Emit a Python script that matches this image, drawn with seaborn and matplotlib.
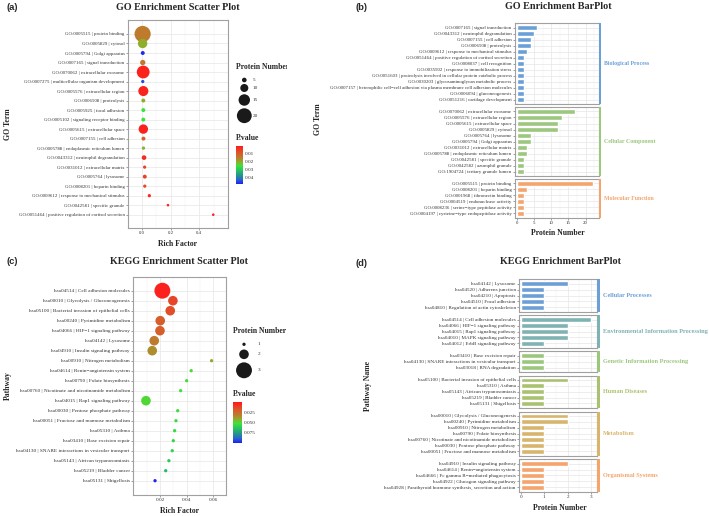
import matplotlib
matplotlib.use('Agg')
import matplotlib.pyplot as plt
import seaborn as sns
from matplotlib.cm import ScalarMappable
from matplotlib.colors import LinearSegmentedColormap, Normalize
from matplotlib.transforms import Bbox, TransformedBbox

# ---------------- data ----------------
go_terms = [
    "GO:0005515 | protein binding",
    "GO:0005829 | cytosol",
    "GO:0005794 | Golgi apparatus",
    "GO:0007165 | signal transduction",
    "GO:0070062 | extracellular exosome",
    "GO:0007275 | multicellular organism development",
    "GO:0005576 | extracellular region",
    "GO:0006508 | proteolysis",
    "GO:0005925 | focal adhesion",
    "GO:0005102 | signaling receptor binding",
    "GO:0005615 | extracellular space",
    "GO:0007155 | cell adhesion",
    "GO:0005788 | endoplasmic reticulum lumen",
    "GO:0043312 | neutrophil degranulation",
    "GO:0031012 | extracellular matrix",
    "GO:0005764 | lysosome",
    "GO:0008201 | heparin binding",
    "GO:0009612 | response to mechanical stimulus",
    "GO:0042581 | specific granule",
    "GO:0051464 | positive regulation of cortisol secretion",
]
go_rich = [0.004, 0.004, 0.005, 0.005, 0.008, 0.005, 0.009, 0.009, 0.009, 0.009,
           0.009, 0.010, 0.010, 0.014, 0.018, 0.019, 0.019, 0.051, 0.181, 0.497]
go_count = [22, 12, 4, 6, 17, 3, 13, 4, 4, 4, 12, 4, 3, 5, 3, 4, 3, 3, 2, 2]
go_pvalue = [0.0155, 0.021, 0.0475, 0.015, 0.002, 0.045, 0.0025, 0.021, 0.026, 0.026,
             0.002, 0.0106, 0.021, 0.0034, 0.0068, 0.0068, 0.0077, 0.0034, 0.003, 0.0025]

go_bar_terms = [
    "GO:0007165 | signal transduction",
    "GO:0043312 | neutrophil degranulation",
    "GO:0007155 | cell adhesion",
    "GO:0006508 | proteolysis",
    "GO:0009612 | response to mechanical stimulus",
    "GO:0051464 | positive regulation of cortisol secretion",
    "GO:0008037 | cell recognition",
    "GO:0035902 | response to immobilization stress",
    "GO:0051603 | proteolysis involved in cellular protein catabolic process",
    "GO:0030203 | glycosaminoglycan metabolic process",
    "GO:0007157 | heterophilic cell−cell adhesion via plasma membrane cell adhesion molecules",
    "GO:0006094 | gluconeogenesis",
    "GO:0051216 | cartilage development",
    "GO:0070062 | extracellular exosome",
    "GO:0005576 | extracellular region",
    "GO:0005615 | extracellular space",
    "GO:0005829 | cytosol",
    "GO:0005764 | lysosome",
    "GO:0005794 | Golgi apparatus",
    "GO:0031012 | extracellular matrix",
    "GO:0005788 | endoplasmic reticulum lumen",
    "GO:0042581 | specific granule",
    "GO:0042582 | azurophil granule",
    "GO:1904724 | tertiary granule lumen",
    "GO:0005515 | protein binding",
    "GO:0008201 | heparin binding",
    "GO:0001968 | fibronectin binding",
    "GO:0004519 | endonuclease activity",
    "GO:0008236 | serine−type peptidase activity",
    "GO:0004197 | cysteine−type endopeptidase activity",
]
go_bar_counts = [6, 5, 4, 4, 3, 2, 2, 2, 2, 2, 2, 2, 2,
                 17, 13, 12, 12, 4, 4, 3, 3, 2, 2, 2,
                 22, 3, 2, 2, 2, 2]
go_bar_class = (["Biological Process"] * 13 + ["Cellular Component"] * 11
                + ["Molecular Function"] * 6)
go_classes = ["Biological Process", "Cellular Component", "Molecular Function"]
go_class_colors = ["#6a9fd8", "#9cc77e", "#f4a46c"]

kegg_terms = [
    "hsa04514 | Cell adhesion molecules",
    "hsa00010 | Glycolysis / Gluconeogenesis",
    "hsa05100 | Bacterial invasion of epithelial cells",
    "hsa00240 | Pyrimidine metabolism",
    "hsa04066 | HIF−1 signaling pathway",
    "hsa04142 | Lysosome",
    "hsa04910 | Insulin signaling pathway",
    "hsa00910 | Nitrogen metabolism",
    "hsa04614 | Renin−angiotensin system",
    "hsa00790 | Folate biosynthesis",
    "hsa00760 | Nicotinate and nicotinamide metabolism",
    "hsa04015 | Rap1 signaling pathway",
    "hsa00030 | Pentose phosphate pathway",
    "hsa00051 | Fructose and mannose metabolism",
    "hsa05310 | Asthma",
    "hsa03410 | Base excision repair",
    "hsa04130 | SNARE interactions in vesicular transport",
    "hsa05143 | African trypanosomiasis",
    "hsa05219 | Bladder cancer",
    "hsa05131 | Shigellosis",
]
kegg_rich = [0.0218, 0.0297, 0.0277, 0.0202, 0.0200, 0.0157, 0.0142, 0.0587, 0.0434, 0.0400,
             0.0355, 0.0095, 0.0333, 0.0320, 0.0310, 0.0300, 0.0292, 0.0267, 0.0243, 0.0163]
kegg_count = [3, 2, 2, 2, 2, 2, 2, 1, 1, 1, 1, 2, 1, 1, 1, 1, 1, 1, 1, 1]
kegg_pvalue = [0.003, 0.013, 0.015, 0.021, 0.021, 0.031, 0.035, 0.041, 0.050, 0.051,
               0.052, 0.050, 0.054, 0.055, 0.056, 0.057, 0.058, 0.061, 0.066, 0.098]

kegg_bar_terms = [
    "hsa04142 | Lysosome",
    "hsa04520 | Adherens junction",
    "hsa04210 | Apoptosis",
    "hsa04510 | Focal adhesion",
    "hsa04810 | Regulation of actin cytoskeleton",
    "hsa04514 | Cell adhesion molecules",
    "hsa04066 | HIF−1 signaling pathway",
    "hsa04015 | Rap1 signaling pathway",
    "hsa04010 | MAPK signaling pathway",
    "hsa04012 | ErbB signaling pathway",
    "hsa03410 | Base excision repair",
    "hsa04130 | SNARE interactions in vesicular transport",
    "hsa03018 | RNA degradation",
    "hsa05100 | Bacterial invasion of epithelial cells",
    "hsa05310 | Asthma",
    "hsa05143 | African trypanosomiasis",
    "hsa05219 | Bladder cancer",
    "hsa05131 | Shigellosis",
    "hsa00010 | Glycolysis / Gluconeogenesis",
    "hsa00240 | Pyrimidine metabolism",
    "hsa00910 | Nitrogen metabolism",
    "hsa00790 | Folate biosynthesis",
    "hsa00760 | Nicotinate and nicotinamide metabolism",
    "hsa00030 | Pentose phosphate pathway",
    "hsa00051 | Fructose and mannose metabolism",
    "hsa04910 | Insulin signaling pathway",
    "hsa04614 | Renin−angiotensin system",
    "hsa04666 | Fc gamma R−mediated phagocytosis",
    "hsa04922 | Glucagon signaling pathway",
    "hsa04928 | Parathyroid hormone synthesis, secretion and action",
]
kegg_bar_counts = [2, 1, 1, 1, 1,
                   3, 2, 2, 2, 1,
                   1, 1, 1,
                   2, 1, 1, 1, 1,
                   2, 2, 1, 1, 1, 1, 1,
                   2, 1, 1, 1, 1]
kegg_bar_class = (["Cellular Processes"] * 5 + ["Environmental Information Processing"] * 5
                  + ["Genetic Information Processing"] * 3 + ["Human Diseases"] * 5
                  + ["Metabolism"] * 7 + ["Organismal Systems"] * 5)
kegg_classes = ["Cellular Processes", "Environmental Information Processing",
                "Genetic Information Processing", "Human Diseases", "Metabolism",
                "Organismal Systems"]
kegg_class_colors = ["#6c9fd6", "#7fb2b2", "#9bc67d", "#aac26f", "#d8b56d", "#f4a46c"]

# ---------------- setup ----------------
sns.set_theme(style='white')
plt.rcParams['font.family'] = ['Liberation Serif', 'DejaVu Serif']

W, H = 709, 516
fig = plt.figure(figsize=(W / 100, H / 100), dpi=100)

pcmap = LinearSegmentedColormap.from_list('pval', [
    (0.0, '#ff1a1a'), (0.15, '#e0502a'), (0.30, '#bf7a2e'), (0.42, '#8db02c'),
    (0.52, '#39e43a'), (0.72, '#22a77a'), (0.88, '#2a64c8'), (1.0, '#1a1aff')])


def box(x0, y0, x1, y1):
    # pixel box (top-left origin) -> figure fraction
    return [x0 / W, 1 - y1 / H, (x1 - x0) / W, (y1 - y0) / H]


def put(x, y, s, **kw):
    kw.setdefault('ha', 'center')
    kw.setdefault('va', 'center')
    return fig.text(x / W, 1 - y / H, s, **kw)


def frame(ax, labelsize):
    ax.set_facecolor('white')
    for sp in ax.spines.values():
        sp.set_visible(True)
        sp.set_color('#a0a0a0')
        sp.set_linewidth(0.8)
    ax.grid(True, which='major', color='#e6e6e6', linewidth=0.5)
    ax.grid(True, which='minor', axis='x', color='#f0f0f0', linewidth=0.35)
    ax.set_axisbelow(True)
    ax.tick_params(which='major', bottom=True, left=True, length=1.5, width=0.4,
                   color='#555555', pad=1, labelsize=labelsize, labelcolor='#333333')
    ax.tick_params(which='minor', bottom=False, left=False, length=0)
    ax.set_xlabel('')
    ax.set_ylabel('')


def dot_area(counts, dmin, dmax):
    lo, hi = min(counts), max(counts)
    return [((dmin + (dmax - dmin) * (c - lo) / (hi - lo)) * 0.72) ** 2 for c in counts]


def scatter_panel(terms, rich, count, pvalue, norm, rect, xlim, ylim, xticks, xlabels,
                  xminor, dsize, labelsize):
    ax = fig.add_axes(box(*rect))
    sns.scatterplot(x=rich, y=terms, hue=pvalue, palette=pcmap, hue_norm=norm,
                    s=dot_area(count, *dsize), linewidth=0, legend=False, ax=ax, zorder=3)
    ax.set_xlim(*xlim)
    ax.set_ylim(*ylim)
    ax.set_xticks(xticks)
    ax.set_xticklabels(xlabels)
    ax.set_xticks(xminor, minor=True)
    frame(ax, labelsize)
    return ax


def size_legend(title, levels, ys, count, dsize, tx, ty, dot_x, lab_x, clip_x=None):
    t = put(tx, ty, title, ha='left', fontsize=5.5, fontweight='bold')
    if clip_x is not None:
        t.set_clip_box(TransformedBbox(Bbox.from_extents(0, 0, clip_x / W, 1), fig.transFigure))
        t.set_clip_on(True)
    lo, hi = min(count), max(count)
    dmin, dmax = dsize
    areas = [((dmin + (dmax - dmin) * (v - lo) / (hi - lo)) * 0.72) ** 2 for v in levels]
    lax = fig.add_axes(box(dot_x - 12, ys[0] - 12, dot_x + 12, ys[-1] + 12))
    lax.set_xlim(dot_x - 12, dot_x + 12)
    lax.set_ylim(ys[-1] + 12, ys[0] - 12)
    lax.axis('off')
    lax.patch.set_alpha(0)
    lax.scatter([dot_x] * len(levels), ys, s=areas, color='#1a1a1a', linewidth=0)
    for v, y in zip(levels, ys):
        put(lab_x, y, str(v), ha='left', fontsize=3.8, color='#333333')


def pval_bar(rect, norm, ticks, labels, title_xy):
    cax = fig.add_axes(box(*rect))
    cb = fig.colorbar(ScalarMappable(norm=Normalize(*norm), cmap=pcmap), cax=cax)
    cb.outline.set_visible(False)
    cax.invert_yaxis()
    cb.set_ticks(ticks, labels=labels)
    cax.tick_params(direction='in', length=1.8, width=0.5, color='white', labelsize=3.8,
                    pad=1.5, labelcolor='#333333', left=True, right=True,
                    labelleft=False, labelright=True)
    put(title_xy[0], title_xy[1], 'P.value', ha='left', fontsize=5.5, fontweight='bold')


def facet_bars(terms, counts, classes, order, colors, top, bottom, gap, x0, x1,
               xlim, xticks, xminor, labelsize, striptext):
    sizes = [classes.count(c) for c in order]
    unit = (bottom - top - gap * (len(order) - 1)) / sum(n + 0.5 for n in sizes)
    y = top
    for k, (cls, col) in enumerate(zip(order, colors)):
        idx = [i for i, c in enumerate(classes) if c == cls]
        n = len(idx)
        h = (n + 0.5) * unit
        ax = fig.add_axes(box(x0, y, x1, y + h))
        sns.barplot(x=[counts[i] for i in idx], y=[terms[i] for i in idx], color=col,
                    saturation=1, width=0.82, errorbar=None, orient='h', ax=ax, zorder=3)
        ax.set_xlim(*xlim)
        ax.set_ylim(n - 0.25, -0.75)
        ax.set_xticks(xticks)
        ax.set_xticks(xminor, minor=True)
        frame(ax, labelsize)
        if k < len(order) - 1:
            ax.tick_params(axis='x', which='both', bottom=False, labelbottom=False)
        # coloured strip on the right side of the facet
        sax = fig.add_axes(box(x1, y, x1 + 2.7, y + h))
        sax.set_facecolor(col)
        sax.set_xticks([])
        sax.set_yticks([])
        for sp in sax.spines.values():
            sp.set_visible(False)
        put(x1 + 5.5, y + h / 2, cls, ha='left', fontsize=striptext, fontweight='bold', color=col)
        y += h + gap


# ---------------- (a) GO scatter ----------------
go_dsize = (2.6, 16.2)
scatter_panel(go_terms, go_rich, go_count, go_pvalue, (0.001, 0.049),
              (128, 20, 228, 228), (-0.098, 0.6), (20.4, -1.47),
              [0.0, 0.2, 0.4], ['0.0', '0.2', '0.4'], [0.1, 0.3, 0.5], go_dsize, 3.5)
put(12, 8, '(a)', fontsize=6.8, fontweight='bold', family=['Liberation Sans', 'DejaVu Sans'])
put(178, 7, 'GO Enrichment Scatter Plot', fontsize=7.3, fontweight='bold')
put(178, 244, 'Rich Factor', fontsize=5.6, fontweight='bold')
put(8, 124, 'GO Term', fontsize=5.6, fontweight='bold', rotation=90)
size_legend('Protein Number', [5, 10, 15, 20], [80, 88, 100, 115.7], go_count, go_dsize,
            235.5, 67, 244.3, 253, clip_x=287)
pval_bar((235.7, 146, 242.7, 184.3), (0.001, 0.049), [0.01, 0.02, 0.03, 0.04],
         ['0.01', '0.02', '0.03', '0.04'], (235.5, 137.5))

# ---------------- (c) KEGG scatter ----------------
kegg_dsize = (3.3, 15.9)
scatter_panel(kegg_terms, kegg_rich, kegg_count, kegg_pvalue, (0.001, 0.1),
              (133.3, 276.7, 225.7, 495), (0.0, 0.0693), (20.43, -1.4),
              [0.02, 0.04, 0.06], ['0.02', '0.04', '0.06'], [0.01, 0.03, 0.05], kegg_dsize, 3.8)
put(12, 262, '(c)', fontsize=6.8, fontweight='bold', family=['Liberation Sans', 'DejaVu Sans'])
put(179, 261.5, 'KEGG Enrichment Scatter Plot', fontsize=7.3, fontweight='bold')
put(179, 511, 'Rich Factor', fontsize=5.6, fontweight='bold')
put(8, 386, 'Pathway', fontsize=5.6, fontweight='bold', rotation=90)
size_legend('Protein Number', [1, 2, 3], [344.3, 354.3, 370.3], kegg_count, kegg_dsize,
            233.3, 331, 244, 258)
pval_bar((232.7, 402.3, 241.7, 443.3), (0.001, 0.1), [0.025, 0.05, 0.075],
         ['0.025', '0.050', '0.075'], (233.3, 394))

# ---------------- (b) GO bar ----------------
facet_bars(go_bar_terms, go_bar_counts, go_bar_class, go_classes, go_class_colors,
           23.3, 217.7, 2.6, 515, 598.7, (-0.5, 23.8), [0, 5, 10, 15, 20],
           [2.5, 7.5, 12.5, 17.5, 22.5], 3.5, 4.2)
put(362, 8, '(b)', fontsize=6.8, fontweight='bold', family=['Liberation Sans', 'DejaVu Sans'])
put(558.3, 6.5, 'GO Enrichment BarPlot', fontsize=7.3, fontweight='bold')
put(558.3, 232.7, 'Protein Number', fontsize=5.6, fontweight='bold')
put(318, 119, 'GO Term', fontsize=5.6, fontweight='bold', rotation=90)

# ---------------- (d) KEGG bar ----------------
facet_bars(kegg_bar_terms, kegg_bar_counts, kegg_bar_class, kegg_classes, kegg_class_colors,
           279.3, 491.7, 3.6, 519.3, 597.3, (-0.07, 3.27), [0, 1, 2, 3],
           [0.5, 1.5, 2.5], 3.7, 4.5)
put(362, 263, '(d)', fontsize=6.8, fontweight='bold', family=['Liberation Sans', 'DejaVu Sans'])
put(560, 261.5, 'KEGG Enrichment BarPlot', fontsize=7.3, fontweight='bold')
put(559.7, 508.3, 'Protein Number', fontsize=5.6, fontweight='bold')
put(368, 385.5, 'Pathway Name', fontsize=5.6, fontweight='bold', rotation=90)

fig.savefig('out.png', dpi=100)
